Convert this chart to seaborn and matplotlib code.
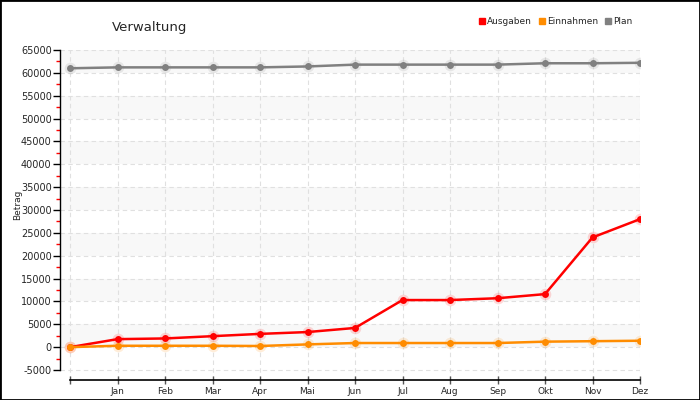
import matplotlib

matplotlib.use("Agg")
import matplotlib.pyplot as plt
import numpy as np
import pandas as pd
import seaborn as sns
from matplotlib.lines import Line2D
from matplotlib.patches import Rectangle

# ---------------------------------------------------------------------------
# Data
# ---------------------------------------------------------------------------
months = ["", "Jan", "Feb", "Mar", "Apr", "Mai", "Jun",
          "Jul", "Aug", "Sep", "Okt", "Nov", "Dez"]
ausgaben = [0, 1750, 1900, 2400, 2900, 3300, 4200,
            10300, 10300, 10700, 11600, 24000, 28000]
einnahmen = [0, 300, 300, 300, 250, 600, 900,
             900, 900, 900, 1200, 1300, 1400]
plan = [61000, 61200, 61200, 61200, 61200, 61400, 61800,
        61800, 61800, 61800, 62100, 62100, 62200]
series = ["Ausgaben", "Einnahmen", "Plan"]
colors = {"Ausgaben": "#ff0000", "Einnahmen": "#ff8c00", "Plan": "#808080"}
y_ticks = list(range(-5000, 65001, 5000))

df = pd.DataFrame({"pos": range(len(months)), "Ausgaben": ausgaben,
                   "Einnahmen": einnahmen, "Plan": plan})
long = df.melt(id_vars="pos", value_vars=series, var_name="serie", value_name="betrag")

sns.set_theme(style="white")
plt.rcParams["font.family"] = ["DejaVu Sans"]

fig = plt.figure(figsize=(7, 4), dpi=100)
ax = fig.add_axes([60 / 700, 20 / 400, 580 / 700, 330 / 400])

# alternating light bands
for lo in range(0, 65000, 10000):
    ax.axhspan(lo, lo + 5000, color="#f8f8f8", zorder=0, lw=0)

# halo under markers
for s in series:
    ax.scatter(df["pos"], df[s], s=70, color=colors[s], alpha=0.15, lw=0, zorder=2)

sns.lineplot(data=long, x="pos", y="betrag", hue="serie", palette=colors,
             marker="o", markersize=5, markeredgewidth=0, linewidth=1.8,
             legend=False, ax=ax, zorder=3)

ax.set_xlim(-10 / 47.5, 12)
ax.set_ylim(-5000 - 10 / 4.571 * 1000, 65000)
ax.set_xticks(range(len(months)))
ax.set_xticklabels(months, fontsize=6.5)
ax.set_yticks(y_ticks)
ax.set_yticklabels([str(v) for v in y_ticks], fontsize=7)
ax.set_yticks(np.arange(-2500, 65000, 5000), minor=True)
ax.tick_params(axis="y", which="major", direction="out", length=5, width=1,
               color="black", pad=1, left=True)
ax.tick_params(axis="y", which="minor", direction="out", length=3, width=1,
               color="red", left=True)
ax.tick_params(axis="x", which="major", direction="inout", length=6, width=1,
               color="#555555", pad=2, bottom=True)

ax.grid(True, axis="both", which="major", color="#e0e0e0", linestyle=(0, (4, 3)), lw=0.8)
ax.set_axisbelow(True)

for sp in ["top", "right"]:
    ax.spines[sp].set_visible(False)
ax.spines["left"].set_bounds(-5000, 65000)
ax.spines["bottom"].set_bounds(0, 12)
ax.spines["left"].set_color("black")
ax.spines["bottom"].set_color("black")
ax.spines["left"].set_linewidth(1)
ax.spines["bottom"].set_linewidth(1.2)

ax.set_xlabel("")
ax.set_ylabel("Betrag", fontsize=6.5)
ax.yaxis.set_label_coords(-0.066, 0.53)

fig.text(112 / 700, 1 - 28 / 400, "Verwaltung", fontsize=9.5, va="center", ha="left")

handles = [Line2D([], [], marker="s", color=colors[s], lw=0, markersize=5) for s in series]
fig.legend(handles, series, loc="center right", bbox_to_anchor=(636 / 700, 1 - 22 / 400),
           ncol=3, frameon=False, fontsize=6.5, handlelength=0.6, handletextpad=0.25,
           columnspacing=0.8, borderaxespad=0)

fig.patches.append(Rectangle((0, 0), 1, 1, transform=fig.transFigure,
                             fill=False, edgecolor="black", lw=2))

fig.savefig("out.png", dpi=100)
